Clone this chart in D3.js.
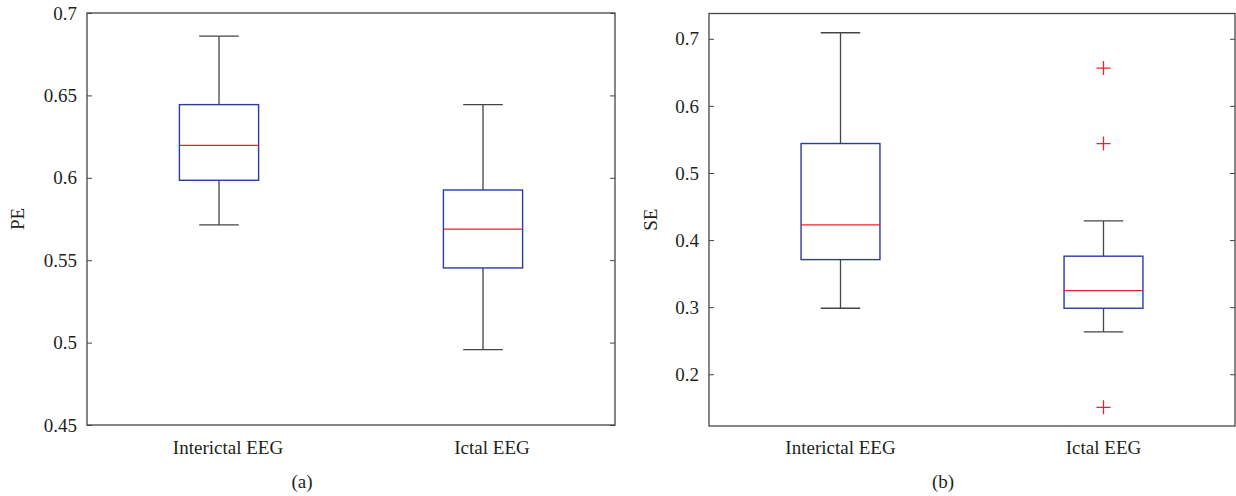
<!DOCTYPE html>
<html>
<head>
<meta charset="utf-8">
<script src="https://cdn.jsdelivr.net/npm/d3@7"></script>
<style>
  body { margin: 0; background: #fff; }
  text { font-family: "Liberation Serif", "DejaVu Serif", serif; fill: #231f20; }
</style>
</head>
<body>
<div id="chart"></div>
<script>
// groups shown in both panels
const groups = ['Interictal EEG', 'Ictal EEG'];

// panel (a): PE
const peStats = [
    { lo: 0.5714, q1: 0.5985, med: 0.6197, q3: 0.6444, hi: 0.686 },
    { lo: 0.4957, q1: 0.5453, med: 0.5689, q3: 0.5926, hi: 0.6444 }
];
const peOutliers = [[], []];
const peTicks = [0.45, 0.5, 0.55, 0.6, 0.65, 0.7];

// panel (b): SE
const seStats = [
    { lo: 0.2984, q1: 0.3709, med: 0.4226, q3: 0.5439, hi: 0.709 },
    { lo: 0.2631, q1: 0.2984, med: 0.3247, q3: 0.376, hi: 0.4286 }
];
const seOutliers = [[], [0.6563, 0.5439, 0.1508]];
const seTicks = [0.2, 0.3, 0.4, 0.5, 0.6, 0.7];

const W = 1236, H = 496;
const svg = d3.select('#chart').append('svg')
    .attr('width', W)
    .attr('height', H);

const frameColor = '#444';
const boxColor = '#2b3aa6';
const medColor = '#e8232a';
const fs = 19;

const panels = [
    { x0: 87, x1: 615, y0: 13, y1: 425, domain: [0.45, 0.7], ticks: peTicks, fmt: d3.format('~g'),
      stats: peStats, outliers: peOutliers, label: 'PE', sub: '(a)', subX: 302, labX: 18, textShift: 9 },
    { x0: 709, x1: 1235, y0: 13.5, y1: 426, domain: [0.1229, 0.7377], ticks: seTicks, fmt: d3.format('.1f'),
      stats: seStats, outliers: seOutliers, label: 'SE', sub: '(b)', subX: 943, labX: 651, textShift: 0 }
];

panels.forEach(p => {
    const g = svg.append('g');
    const x = d3.scaleLinear().domain([0.5, 2.5]).range([p.x0, p.x1]);
    const y = d3.scaleLinear().domain(p.domain).range([p.y1, p.y0]);

    // inward ticks on left and right
    g.append('g')
        .attr('transform', `translate(${p.x0},0)`)
        .call(d3.axisRight(y).tickValues(p.ticks).tickSize(5).tickFormat(''))
        .call(a => a.select('.domain').remove())
        .call(a => a.selectAll('line').attr('stroke', frameColor));
    g.append('g')
        .attr('transform', `translate(${p.x1},0)`)
        .call(d3.axisLeft(y).tickValues(p.ticks).tickSize(5).tickFormat(''))
        .call(a => a.select('.domain').remove())
        .call(a => a.selectAll('line').attr('stroke', frameColor));

    // tick labels
    g.selectAll('.tl').data(p.ticks).join('text')
        .attr('x', p.x0 - 10)
        .attr('y', d => y(d))
        .attr('dy', '0.35em')
        .attr('text-anchor', 'end')
        .attr('font-size', fs)
        .text(d => p.fmt(d));

    g.append('rect')
        .attr('x', p.x0).attr('y', p.y0)
        .attr('width', p.x1 - p.x0).attr('height', p.y1 - p.y0)
        .attr('fill', 'none')
        .attr('stroke', frameColor)
        .attr('stroke-width', 1.3);

    const boxW = x(1.3) - x(1);
    const capW = x(1.15) - x(1);

    p.stats.forEach((s, i) => {
        const cx = x(i + 1);
        const bg = g.append('g');
        // whiskers
        bg.append('line').attr('x1', cx).attr('x2', cx).attr('y1', y(s.hi)).attr('y2', y(s.q3));
        bg.append('line').attr('x1', cx).attr('x2', cx).attr('y1', y(s.q1)).attr('y2', y(s.lo));
        bg.append('line').attr('x1', cx - capW / 2).attr('x2', cx + capW / 2).attr('y1', y(s.hi)).attr('y2', y(s.hi));
        bg.append('line').attr('x1', cx - capW / 2).attr('x2', cx + capW / 2).attr('y1', y(s.lo)).attr('y2', y(s.lo));
        bg.selectAll('line').attr('stroke', frameColor).attr('stroke-width', 1.3);
        bg.append('rect')
            .attr('x', cx - boxW / 2).attr('y', y(s.q3))
            .attr('width', boxW).attr('height', y(s.q1) - y(s.q3))
            .attr('fill', 'none').attr('stroke', boxColor).attr('stroke-width', 1.4);
        bg.append('line')
            .attr('x1', cx - boxW / 2).attr('x2', cx + boxW / 2)
            .attr('y1', y(s.med)).attr('y2', y(s.med))
            .attr('stroke', medColor).attr('stroke-width', 1.3);

        p.outliers[i].forEach(v => {
            bg.append('path')
                .attr('d', `M${cx - 7},${y(v)}H${cx + 7}M${cx},${y(v) - 7}V${y(v) + 7}`)
                .attr('stroke', medColor).attr('stroke-width', 1.3);
        });

        g.append('text')
            .attr('x', cx + p.textShift)
            .attr('y', 454)
            .attr('text-anchor', 'middle')
            .attr('font-size', fs)
            .text(groups[i]);
    });

    g.append('text')
        .attr('transform', `translate(${p.labX + 6},${(p.y0 + p.y1) / 2}) rotate(-90)`)
        .attr('text-anchor', 'middle')
        .attr('font-size', fs)
        .text(p.label);

    g.append('text')
        .attr('x', p.subX)
        .attr('y', 488)
        .attr('text-anchor', 'middle')
        .attr('font-size', fs)
        .text(p.sub);
});
</script>
</body>
</html>
